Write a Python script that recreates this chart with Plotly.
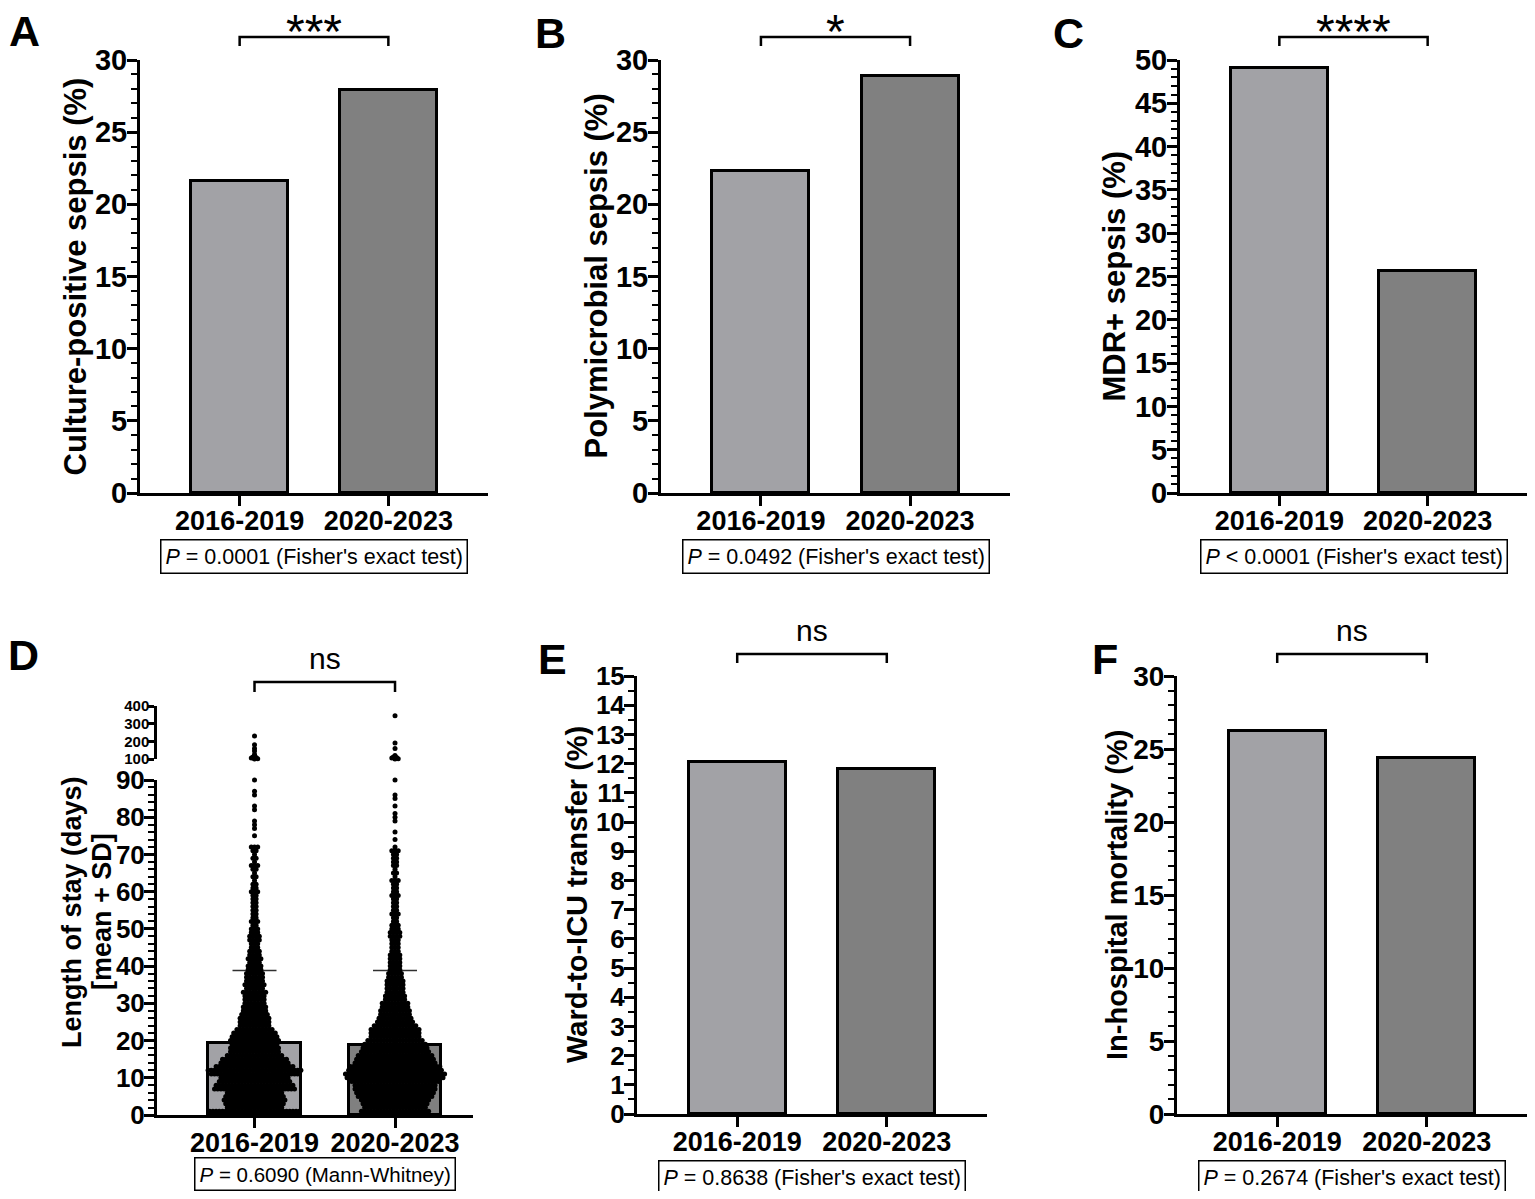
import plotly.graph_objects as go

# ---- data ----
periods = ["2016-2019", "2020-2023"]

culture_pos = [21.6, 27.9]
polymicrobial = [22.3, 28.9]
mdr_sepsis = [49.1, 25.6]
icu_transfer = [12.05, 11.8]
mortality = [26.2, 24.4]

# length of stay (panel D): mean, SD and approximate number of patients per day
los_mean = [19.3, 18.8]
los_sd = [19.5, 20.0]
los_days = list(range(1, 91))
los_counts_2016 = [29, 18, 19, 20, 19, 18, 26, 25, 23, 22,
                   28, 30, 25, 22, 21, 18, 16, 16, 15, 16,
                   15, 14, 12, 10, 10, 10, 9, 8, 8, 7,
                   7, 7, 8, 6, 7, 6, 6, 6, 5, 5,
                   4, 5, 4, 4, 3, 3, 4, 4, 3, 3,
                   2, 3, 2, 2, 2, 2, 2, 2, 2, 3,
                   2, 2, 1, 2, 1, 2, 3, 1, 2, 1,
                   2, 3, 0, 0, 1, 0, 1, 1, 1, 0,
                   0, 1, 1, 0, 0, 1, 1, 0, 0, 1]
los_counts_2020 = [22, 20, 21, 22, 24, 25, 26, 26, 28, 31,
                   32, 30, 29, 26, 25, 24, 22, 21, 20, 18,
                   16, 16, 16, 14, 12, 11, 10, 10, 9, 9,
                   7, 7, 6, 6, 6, 6, 5, 5, 4, 4,
                   4, 4, 4, 3, 3, 3, 3, 4, 4, 3,
                   3, 2, 2, 3, 2, 2, 2, 2, 3, 2,
                   2, 2, 3, 1, 2, 1, 2, 2, 2, 2,
                   3, 1, 0, 1, 0, 1, 0, 0, 1, 1,
                   1, 0, 1, 0, 1, 1, 0, 0, 0, 1]
los_high_2016 = [230, 180, 160, 145, 125, 118, 112, 108, 105, 103, 101, 100]
los_high_2020 = [345, 190, 160, 120, 112, 108, 105, 103, 101, 100]

sig_labels = ["***", "*", "****", "ns", "ns", "ns"]
p_texts = [
    "<i>P</i> = 0.0001 (Fisher's exact test)",
    "<i>P</i> = 0.0492 (Fisher's exact test)",
    "<i>P</i> < 0.0001 (Fisher's exact test)",
    "<i>P</i> = 0.6090 (Mann-Whitney)",
    "<i>P</i> = 0.8638 (Fisher's exact test)",
    "<i>P</i> = 0.2674 (Fisher's exact test)",
]

# ---- helpers ----
# the page body has an 8px margin, so the figure is a bit smaller than the window
OFF = 8
W, H = 1535 - 2 * OFF, 1199 - 2 * OFF
FONT = "Liberation Sans, Arial, sans-serif"
LIGHT, DARK = "#a2a2a6", "#808080"


def px(x):
    return (x - OFF) / W


def py(y):
    return 1 - (y - OFF) / H


def bold(size):
    return dict(family=FONT, size=size, color="black", weight="bold")


def swarm(center, ys, counts, step):
    xs, yy = [], []
    for v, n in zip(ys, counts):
        for i in range(n):
            xs.append(center + (i - (n - 1) / 2) * step)
            yy.append(v)
    return xs, yy


def paper_text(x, y, text, font, angle=0):
    return dict(x=px(x), y=py(y), xref="paper", yref="paper", text=text, textangle=angle,
                showarrow=False, xanchor="center", yanchor="middle", font=font)


fig = go.Figure()

axis_common = dict(showline=True, linecolor="black", linewidth=3, ticks="outside",
                   tickcolor="black", tickwidth=3, ticklen=10, showgrid=False,
                   zeroline=False, automargin=False, fixedrange=True)
xaxis_common = dict(axis_common, tickvals=[0, 1], ticktext=periods, tickfont=bold(27),
                    ticklabelstandoff=-8)

# n, values, letter, ytitle, x-domain px, y px (zero, top), ymax, dtick, minor, tick font,
# title x, title size, letter pos, bracket y, sig y, sig size, p-box y
bar_panels = [
    (1, culture_pos, "A", "Culture-positive sepsis (%)", (140, 488), (493, 60), 30, 5, 1, 29,
     75, 31, (24, 31), 37, 32, 48, 556),
    (2, polymicrobial, "B", "Polymicrobial sepsis (%)", (661, 1010), (493, 60), 30, 5, 1, 29,
     596, 31, (550, 33), 37, 32, 48, 556),
    (3, mdr_sepsis, "C", "MDR+ sepsis (%)", (1180, 1527), (493, 60), 50, 5, 1, 29,
     1114, 31, (1068, 33), 37, 32, 48, 556),
    (5, icu_transfer, "E", "Ward-to-ICU transfer (%)", (637, 987), (1114, 676), 15, 1, 0.5, 26,
     577, 29, (552, 659), 654, 630, 30, 1177),
    (6, mortality, "F", "In-hospital mortality (%)", (1177, 1527), (1114, 676), 30, 5, 1, 28,
     1117, 29, (1105, 659), 654, 630, 30, 1177),
]

annotations = []
shapes = []

for (n, vals, letter, ytitle, xd, yd, ymax, dtick, mdt, tfs,
     tx, tsz, lpos, by, sy, ssz, pby) in bar_panels:
    xa = "x" if n == 1 else f"x{n}"
    ya = "y" if n == 1 else f"y{n}"
    fig.add_trace(go.Bar(x=[0, 1], y=vals, width=0.65,
                         marker=dict(color=[LIGHT, DARK], line=dict(color="black", width=3)),
                         xaxis=xa, yaxis=ya, showlegend=False, hoverinfo="skip"))
    fig.layout[f"xaxis{'' if n == 1 else n}"] = dict(
        xaxis_common, domain=[px(xd[0]), px(xd[1])], range=[-0.67, 1.67], anchor=ya)
    fig.layout[f"yaxis{'' if n == 1 else n}"] = dict(
        axis_common, domain=[py(yd[0]), py(yd[1])], range=[0, ymax], anchor=xa,
        tick0=0, dtick=dtick, tickfont=bold(tfs), ticklabelstandoff=-6,
        minor=dict(ticks="outside", dtick=mdt, ticklen=6, tickwidth=2, tickcolor="black",
                   showgrid=False))
    annotations.append(paper_text(tx, (yd[0] + yd[1]) / 2, ytitle, bold(tsz), -90))
    annotations.append(paper_text(lpos[0], lpos[1], letter, bold(43)))
    shapes.append(dict(type="path", xref=xa, yref="paper",
                       path=f"M0,{py(by + 9)} L0,{py(by)} L1,{py(by)} L1,{py(by + 9)}",
                       line=dict(color="black", width=2.5)))
    annotations.append(dict(x=0.5, y=py(sy), xref=xa, yref="paper", text=sig_labels[n - 1],
                            showarrow=False, xanchor="center", yanchor="middle",
                            font=dict(family=FONT, size=ssz, color="black")))
    annotations.append(dict(x=0.5, y=py(pby), xref=xa, yref="paper", text=p_texts[n - 1],
                            showarrow=False, xanchor="center", yanchor="middle",
                            bgcolor="white", bordercolor="black", borderwidth=1.5, borderpad=4,
                            font=dict(family=FONT, size=21.5, color="black")))

# ---- panel D: bars with mean + SD and the individual patients ----
step = 3.2 / 140.5
fig.add_trace(go.Bar(x=[0, 1], y=los_mean, width=0.66,
                     marker=dict(color=[LIGHT, DARK], line=dict(color="black", width=3)),
                     error_y=dict(type="data", symmetric=False, array=los_sd, arrayminus=[0, 0],
                                  color="#303030", thickness=1.5, width=22),
                     xaxis="x4", yaxis="y4", showlegend=False, hoverinfo="skip"))
for c, counts in enumerate([los_counts_2016, los_counts_2020]):
    xs, ys = swarm(c, los_days, counts, step)
    fig.add_trace(go.Scatter(x=xs, y=ys, mode="markers", xaxis="x4", yaxis="y4",
                             marker=dict(size=5, color="black"), cliponaxis=False,
                             showlegend=False, hoverinfo="skip"))
for c, highs in enumerate([los_high_2016, los_high_2020]):
    bins = {}
    for v in highs:
        bins.setdefault(round(v / 8), []).append(v)
    xs, ys = [], []
    for grp in bins.values():
        k = len(grp)
        xs += [c + (i - (k - 1) / 2) * step for i in range(k)]
        ys += grp
    fig.add_trace(go.Scatter(x=xs, y=ys, mode="markers", xaxis="x4", yaxis="y7",
                             marker=dict(size=5, color="black"), cliponaxis=False,
                             showlegend=False, hoverinfo="skip"))

fig.layout.xaxis4 = dict(xaxis_common, domain=[px(157), px(473)], range=[-0.694, 1.555],
                         anchor="y4")
fig.layout.yaxis4 = dict(axis_common, domain=[py(1115), py(780)], range=[0, 90], anchor="x4",
                         tick0=0, dtick=10, tickfont=bold(26), ticklabelstandoff=-6,
                         minor=dict(ticks="outside", dtick=2, ticklen=6, tickwidth=2,
                                    tickcolor="black", showgrid=False))
fig.layout.yaxis7 = dict(axis_common, domain=[py(759), py(706)], range=[100, 400], anchor="x4",
                         tickvals=[100, 200, 300, 400], ticklen=6, tickwidth=2.5, linewidth=2.5,
                         tickfont=bold(15), ticklabelstandoff=-4)

annotations += [
    paper_text(23, 655, "D", bold(43)),
    paper_text(72, 912, "Length of stay (days)", bold(27), -90),
    paper_text(102, 912, "[mean + SD]", bold(27), -90),
    dict(x=0.5, y=py(658), xref="x4", yref="paper", text=sig_labels[3], showarrow=False,
         xanchor="center", yanchor="middle", font=dict(family=FONT, size=30, color="black")),
    dict(x=0.5, y=py(1174), xref="x4", yref="paper", text=p_texts[3], showarrow=False,
         xanchor="center", yanchor="middle", bgcolor="white", bordercolor="black",
         borderwidth=1.5, borderpad=4, font=dict(family=FONT, size=20.5, color="black")),
]
shapes.append(dict(type="path", xref="x4", yref="paper",
                   path=f"M0,{py(692)} L0,{py(682)} L1,{py(682)} L1,{py(692)}",
                   line=dict(color="black", width=2.5)))

fig.update_layout(width=W, height=H, margin=dict(l=0, r=0, t=0, b=0),
                  paper_bgcolor="white", plot_bgcolor="white", bargap=0,
                  annotations=annotations, shapes=shapes,
                  font=dict(family=FONT, color="black"))

fig.write_html("out.html")
